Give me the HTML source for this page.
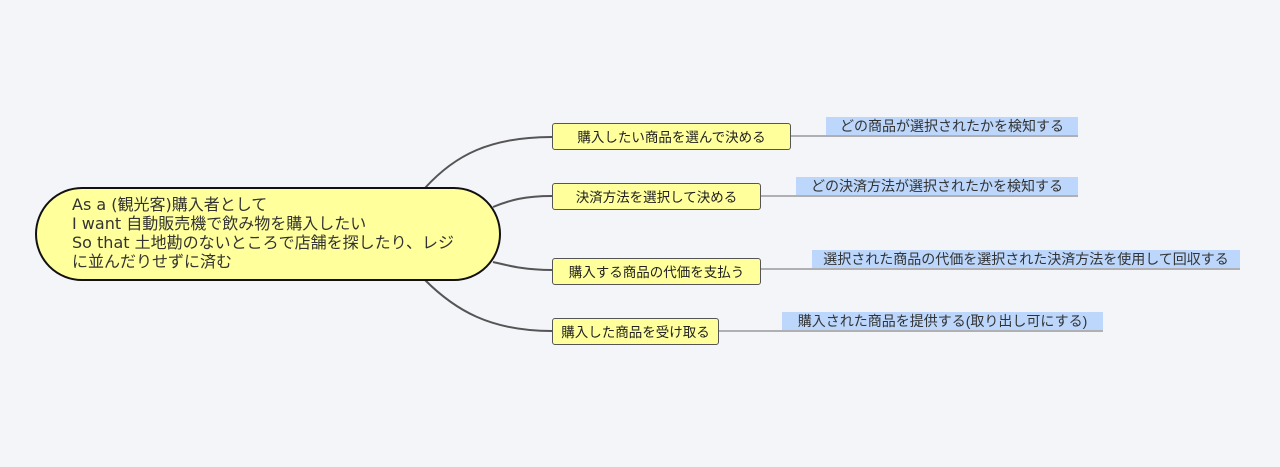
<!DOCTYPE html>
<html><head><meta charset="utf-8"><style>
body{margin:0;width:1280px;height:467px;background:#f4f5f9;position:relative;overflow:hidden;font-family:"Liberation Sans","Noto Sans CJK JP",sans-serif;}
.root{position:absolute;left:35px;top:187px;width:462px;height:90px;background:#ffff9c;border:2px solid #111;border-radius:47px;box-sizing:content-box;}
.root div{position:absolute;left:35px;top:6px;font-family:"DejaVu Sans","Noto Sans CJK JP",sans-serif;font-size:16px;line-height:19px;color:#333;white-space:nowrap;}
.c{position:absolute;height:27px;background:#ffff9c;border:1px solid #555;border-radius:3px;font-size:13.5px;line-height:27px;color:#222;box-sizing:border-box;text-align:center;white-space:nowrap;}
.l{position:absolute;height:18px;background:#bcd7fb;font-size:14px;line-height:18px;color:#333;text-align:center;white-space:nowrap;}
</style></head><body>
<svg width="1280" height="467" style="position:absolute;left:0;top:0">
<g fill="none" stroke="#555" stroke-width="2">
<path d="M425 188 C455 155 490 137 552 137"/>
<path d="M493 207 C510 200 525 196 552 196"/>
<path d="M493 262 C510 266 525 270 552 270"/>
<path d="M425 280 C455 310 490 331 552 331"/>
</g>
<g fill="none" stroke="#888" stroke-width="1.2">
<path d="M790 136 H1078"/>
<path d="M760 196 H1078"/>
<path d="M760 269 H1240"/>
<path d="M718 331 H1103"/>
</g>
</svg>
<div class="root"><div>As a (観光客)購入者として<br>I want 自動販売機で飲み物を購入したい<br>So that 土地勘のないところで店舗を探したり、レジ<br>に並んだりせずに済む</div></div>
<div class="c" style="left:552px;top:123px;width:239px">購入したい商品を選んで決める</div>
<div class="c" style="left:552px;top:183px;width:209px">決済方法を選択して決める</div>
<div class="c" style="left:552px;top:258px;width:209px">購入する商品の代価を支払う</div>
<div class="c" style="left:552px;top:318px;width:167px">購入した商品を受け取る</div>
<div class="l" style="left:826px;top:117px;width:252px">どの商品が選択されたかを検知する</div>
<div class="l" style="left:796px;top:177px;width:282px">どの決済方法が選択されたかを検知する</div>
<div class="l" style="left:812px;top:250px;width:428px">選択された商品の代価を選択された決済方法を使用して回収する</div>
<div class="l" style="left:782px;top:312px;width:321px">購入された商品を提供する(取り出し可にする)</div>
</body></html>
